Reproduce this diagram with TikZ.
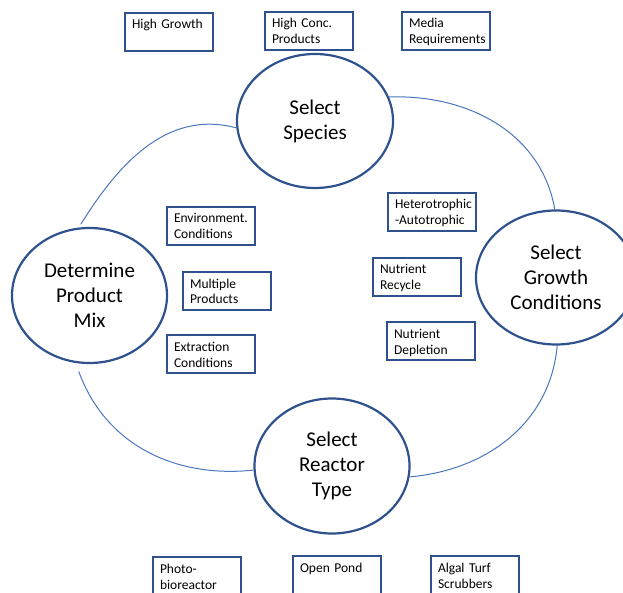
\documentclass[tikz,border=0pt]{standalone}
\usepackage{fontspec}
\setmainfont{Carlito}
\usetikzlibrary{shapes.geometric}
\hyphenpenalty=10000
\definecolor{ringblue}{HTML}{2F528F}
\definecolor{linkblue}{HTML}{4A76BE}
\tikzset{
  stage/.style={ellipse, draw=ringblue, line width=2.2pt, inner sep=0pt, align=center,
    font=\fontsize{21}{25}\selectfont},
  factor/.style={draw=ringblue, line width=1.8pt, anchor=north west, outer sep=0pt,
    inner xsep=7pt, inner ysep=0pt, text width=74pt, align=left,
    text height=16pt, text depth=22pt,
    font=\fontsize{13.5}{16}\selectfont},
  cycle/.style={draw=linkblue, line width=1pt}
}
\begin{document}
\begin{tikzpicture}[x=1pt, y=1pt]
		%%%%% START %%%%%
		\useasboundingbox (0,0) rectangle (623,-593);
		
		% four stages
		\node[stage, minimum width=156pt, minimum height=134pt] (sp) at (315,-121) {Select\\Species};
		\node[stage, minimum width=160pt, minimum height=134pt] (gc) at (556,-277.5) {Select\\Growth\\Conditions};
		\node[stage, minimum width=155pt, minimum height=135pt] (rt) at (332,-466) {Select\\Reactor\\Type};
		\node[stage, minimum width=155pt, minimum height=135pt] (pm) at (89.5,-295.5) {Determine\\Product\\Mix};
		
		% the cycle
		\draw[cycle] (sp.18) to[out=2, in=100] (gc.91);
		\draw[cycle] (gc.271) to[out=-95, in=5] (rt.-8);
		\draw[cycle] (rt.183) to[out=186, in=-70] ([yshift=-8pt]pm.261);
		\draw[cycle, shorten >=4pt] (sp.185) to[out=165, in=58] (pm.99);
		
		% species
		\node[factor] (hg) at (125,-13) {High Growth};
		\node[factor] (hc) at (265,-12) {High Conc.\\Products};
		\node[factor] (mr) at (402,-12) {Media\\Requirements};
		
		% growth conditions
		\node[factor] (ha) at (388,-193) {Heterotrophic\\-Autotrophic};
		\node[factor] (nr) at (373,-258) {Nutrient\\Recycle};
		\node[factor] (nd) at (387,-322) {Nutrient\\Depletion};
		
		% product mix
		\node[factor] (ec) at (167,-207) {Environment.\\Conditions};
		\node[factor] (mp) at (183,-272) {Multiple\\Products};
		\node[factor] (xc) at (167,-335) {Extraction\\Conditions};
		
		% reactor type
		\node[factor] (pb) at (153,-557) {Photo-\\bioreactor};
		\node[factor] (op) at (293,-556) {Open Pond};
		\node[factor] (at) at (431,-556) {Algal Turf\\Scrubbers};
		
		%%%%% END %%%%%
	\end{tikzpicture}
\end{document}
